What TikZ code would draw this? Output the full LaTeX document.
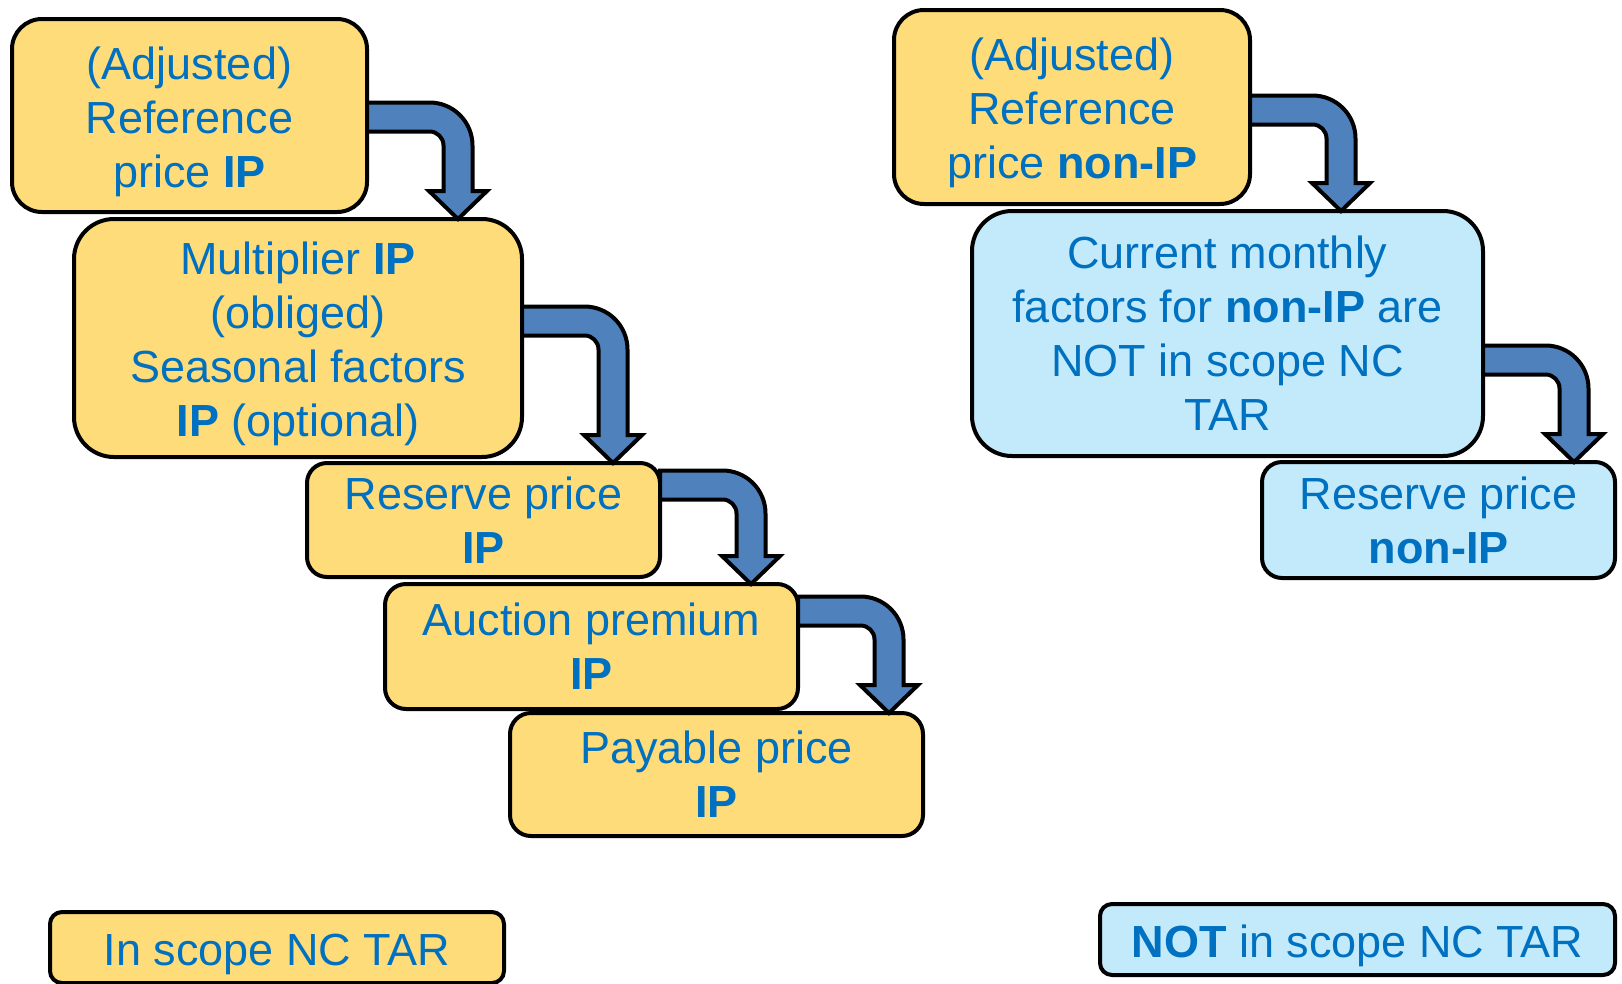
\documentclass[tikz,border=0pt]{standalone}
\usepackage{fontspec}
\setmainfont{Liberation Sans}
\usepackage{tikz}
\usetikzlibrary{calc}
\definecolor{boxyellow}{RGB}{255,220,122}
\definecolor{boxcyan}{RGB}{194,234,250}
\definecolor{textblue}{RGB}{0,112,192}
\definecolor{arrowblue}{RGB}{79,129,189}
\newcommand\boxstrut{\rule{0pt}{45pt}}
\newcommand\bentarrow[3]{%
  \coordinate (s) at ($(#1.north east)+(0,-#2)$);
  \coordinate (tx) at ($(#1.east)+(91,0)$);
  \coordinate (t) at (tx |- #3.north);
  \draw[flowarrow] ($(s)+(0,14.5)$) -- ($(s -| t)+(-28.5,14.5)$) arc (90:0:43pt)
    -- ($(t)+(14.5,28)$) -- ($(t)+(29,28)$) -- (t) -- ($(t)+(-29,28)$) -- ($(t)+(-14.5,28)$)
    -- ($(s -| t)+(-14.5,-28.5)$) arc (0:90:14pt) -- ($(s)+(0,-14.5)$) -- cycle;}

\begin{document}
\begin{tikzpicture}[x=1pt, y=1pt,
  box/.style={draw=black, line width=4pt, rounded corners=#1, inner sep=0pt, outer sep=0pt,
    align=center, text=textblue, font=\fontsize{45}{54}\selectfont},
  box/.default=30pt,
  ipbox/.style={box=#1, fill=boxyellow},
  ipbox/.default=30pt,
  nonbox/.style={box=#1, fill=boxcyan},
  nonbox/.default=30pt,
  flowarrow/.style={draw=black, fill=arrowblue, line width=4pt, line join=miter}]
			%%%%% START %%%%%
			\useasboundingbox (0,0) rectangle (1622,-983);
			
			% IP chain
			\node[ipbox, minimum width=355, minimum height=193] (refip) at (189.5,-115.5) {\boxstrut(Adjusted)\\Reference\\price \textbf{IP}};
			\node[ipbox=40pt, minimum width=448, minimum height=238] (mult) at (298,-338) {\boxstrut Multiplier \textbf{IP}\\(obliged)\\Seasonal factors\\\textbf{IP} (optional)};
			\node[ipbox=20pt, minimum width=353, minimum height=114] (resip) at (483.5,-520) {Reserve price\\\textbf{IP}};
			\node[ipbox=21pt, minimum width=413, minimum height=125] (auction) at (591.5,-646.5) {Auction premium\\\textbf{IP}};
			\node[ipbox=21pt, minimum width=413, minimum height=123] (payable) at (716.5,-774.5) {Payable price\\\textbf{IP}};
			
			% non-IP chain
			\node[ipbox, minimum width=356, minimum height=194] (refnon) at (1072,-107) {\boxstrut(Adjusted)\\Reference\\price \textbf{non-IP}};
			\node[nonbox=40pt, minimum width=511, minimum height=245] (monthly) at (1227.5,-333.5) {Current monthly\\factors for \textbf{non-IP} are\\NOT in scope NC\\TAR};
			\node[nonbox=20pt, minimum width=353, minimum height=116] (resnon) at (1438.5,-520) {Reserve price\\\textbf{non-IP}};
			
			% legend
			\node[ipbox=12pt, minimum width=454, minimum height=71] (legin) at (277,-947.5) {\boxstrut In scope NC TAR};
			\node[nonbox=12pt, minimum width=515, minimum height=71] (legnot) at (1357.5,-939.5) {\boxstrut\textbf{NOT} in scope NC TAR};
			
			% arrows
			\bentarrow{refip}{98}{mult}
			\bentarrow{mult}{102}{resip}
			\bentarrow{resip}{22}{auction}
			\bentarrow{auction}{27}{payable}
			\bentarrow{refnon}{100}{monthly}
			\bentarrow{monthly}{149}{resnon}
			
			%%%%% END %%%%%
\end{tikzpicture}
\end{document}
